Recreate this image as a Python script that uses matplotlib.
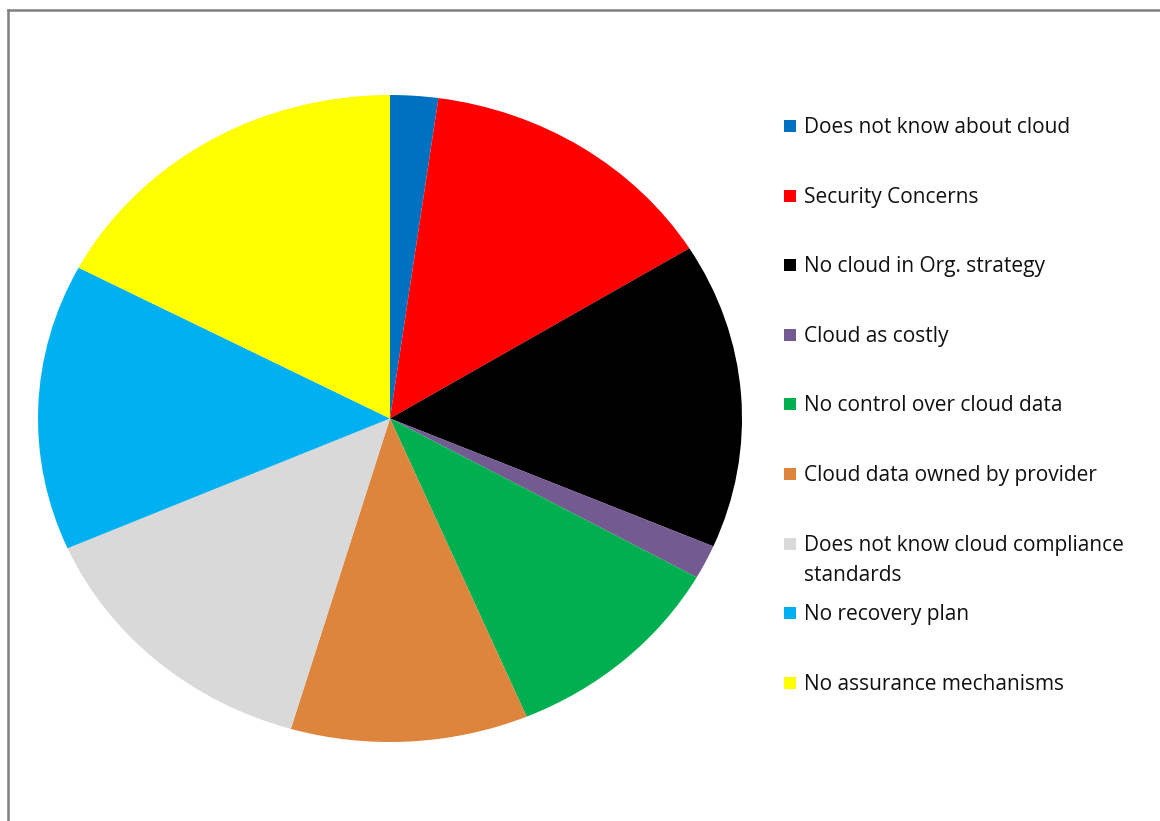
import matplotlib
matplotlib.use("Agg")
import matplotlib.pyplot as plt
from matplotlib.patches import Rectangle
from matplotlib.lines import Line2D

labels = ["Does not know about cloud", "Security Concerns", "No cloud in Org. strategy",
          "Cloud as costly", "No control over cloud data", "Cloud data owned by provider",
          "Does not know cloud compliance\nstandards", "No recovery plan", "No assurance mechanisms"]
values = [2.2, 14.0, 15.3, 1.7, 10.5, 10.9, 13.9, 14.3, 17.3]
colors = ["#0070C0", "#FF0000", "#000000", "#735A91", "#00B050", "#DD843D",
          "#D9D9D9", "#00B0F0", "#FFFF00"]

W, H = 1160, 821
fig = plt.figure(figsize=(W / 100, H / 100), dpi=100)

# border
fig.add_artist(Line2D([8 / W, 8 / W], [0, 1 - 10 / H], color="#808080", lw=1.8))
fig.add_artist(Line2D([8 / W, 1], [1 - 10 / H, 1 - 10 / H], color="#808080", lw=1.8))

ax = fig.add_axes([38 / W, (821 - 742) / H, 704 / W, 647 / H])
ax.pie(values, colors=colors, startangle=90, counterclock=False,
       wedgeprops=dict(linewidth=0))
ax.set_aspect("auto")
ax.set_xlim(-1, 1)
ax.set_ylim(-1, 1)
ax.axis("off")

y0 = 126
step = 69.6
for i, (lab, col) in enumerate(zip(labels, colors)):
    yc = y0 + i * step
    fig.add_artist(Rectangle((784 / W, 1 - (yc + 6) / H), 12 / W, 12 / H,
                             facecolor=col, edgecolor="none", transform=fig.transFigure))
    fig.text(804 / W, 1 - (yc - 9) / H, lab, fontsize=15, family="Open Sans",
             va="top", ha="left", color="#111111", linespacing=1.6)

fig.savefig("out.png", dpi=100)
